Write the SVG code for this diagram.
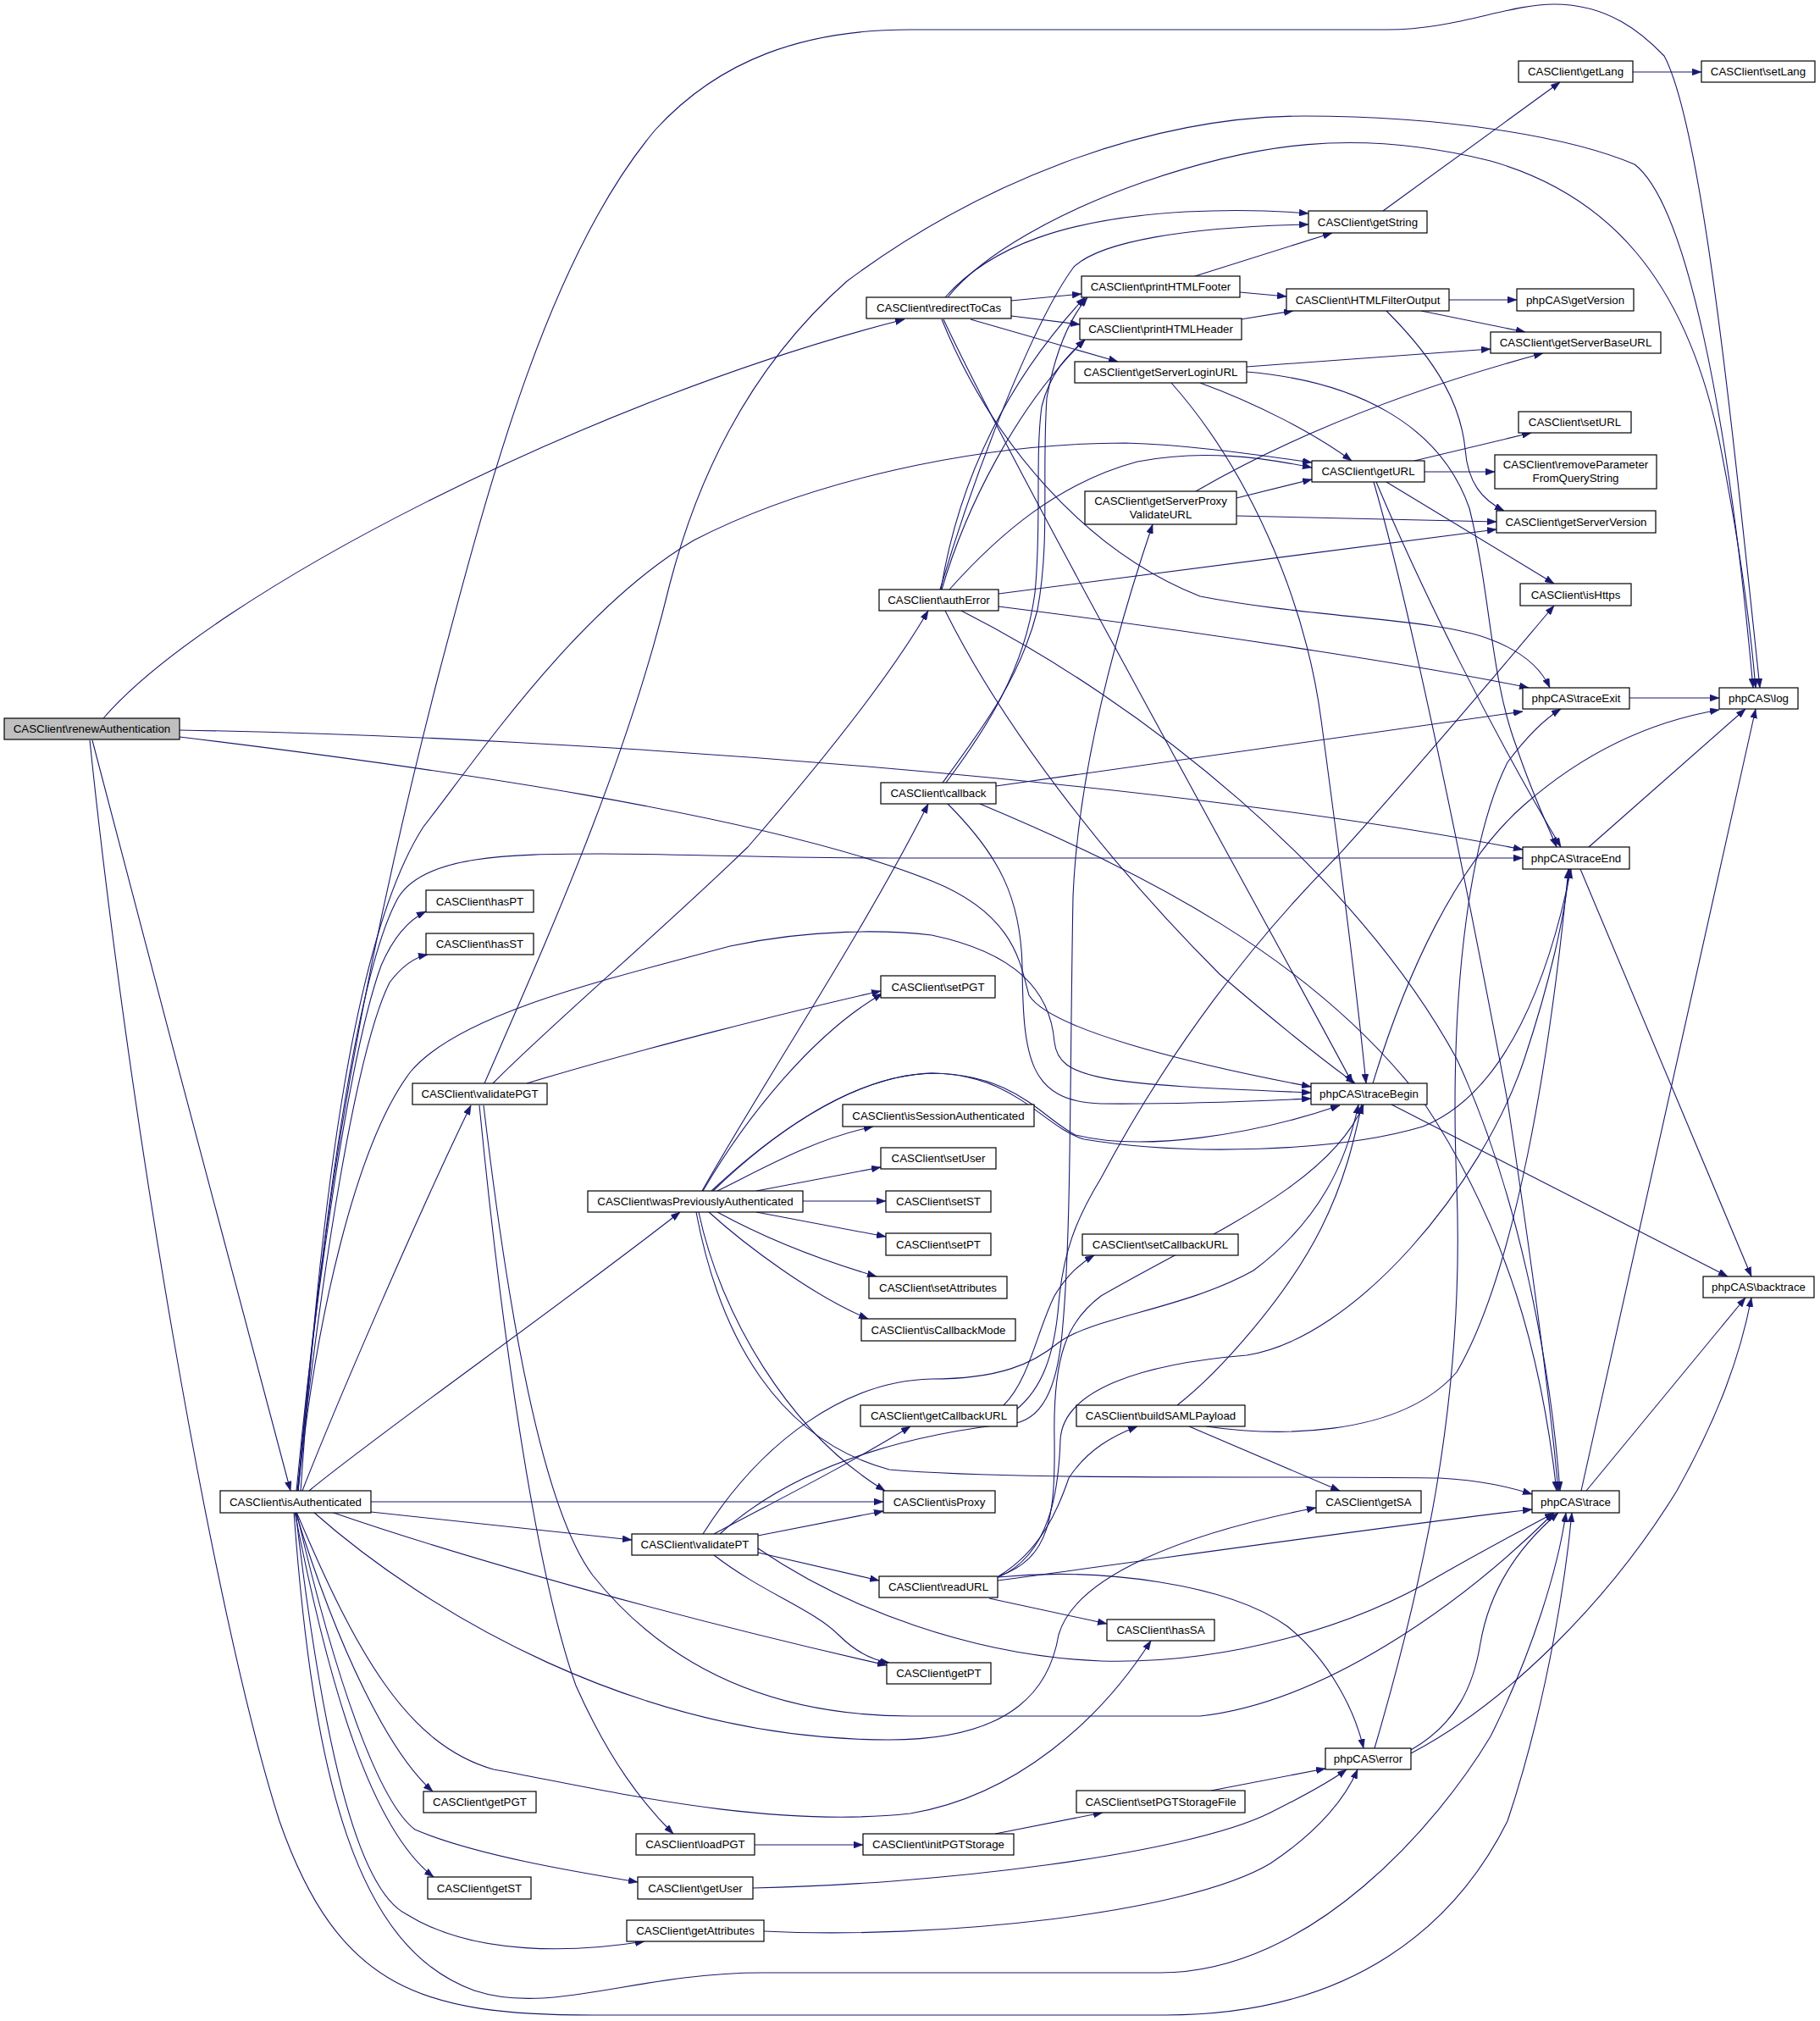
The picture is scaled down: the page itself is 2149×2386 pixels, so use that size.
<svg xmlns="http://www.w3.org/2000/svg" width="2149" height="2386" viewBox="0 0 2149 2386">
<style>
.n rect{fill:#ffffff;stroke:#000000;stroke-width:1.2}
.n text{font-family:"Liberation Sans",Arial,Helvetica,sans-serif;font-size:13.3px;fill:#000000;text-anchor:middle}
.root rect{fill:#bfbfbf}
#edges path{fill:none;stroke:#191970;stroke-width:1.1;marker-end:url(#ah)}
</style>
<defs>
<marker id="ah" viewBox="0 0 11 8" refX="11" refY="4" markerWidth="11" markerHeight="8" markerUnits="userSpaceOnUse" orient="auto">
<path d="M0,0 L11,4 L0,8 z" fill="#191970" stroke="#191970" stroke-width="0.5"/>
</marker>
</defs>
<rect x="0" y="0" width="2149" height="2386" fill="#ffffff"/>
<g id="edges">
<path d="M122,848 C 250,700 700,470 1068,377"/>
<path d="M109,874 C 180,1150 280,1520 343,1760"/>
<path d="M212,862 C 700,870 1400,925 1798,1003"/>
<path d="M212,870 C 500,905 900,960 1100,1040 C 1200,1080 1205,1140 1215,1175 C 1240,1215 1400,1255 1548,1283"/>
<path d="M106,874 C 150,1300 250,1900 330,2150 C 400,2350 500,2379 700,2379 L 1376,2379 C 1600,2379 1720,2270 1780,2150 C 1830,2000 1850,1850 1856,1786"/>
<path d="M352,1760 C 380,1400 440,1100 517,800 C 580,560 650,300 774,153 C 850,70 950,35 1074,35 L 1637,35 C 1720,35 1780,5 1835,5 C 1900,5 1940,40 1965,66 C 2010,150 2045,500 2078,812"/>
<path d="M355,1760 C 380,1400 420,1100 500,976 C 560,900 680,720 819,638 C 950,570 1150,523 1329,523 C 1400,525 1470,535 1549,546"/>
<path d="M352,1760 C 380,1450 420,1150 470,1060 C 500,1010 600,1008 709,1008 C 800,1008 900,1013 1050,1013 L 1798,1013"/>
<path d="M350,1760 C 370,1550 410,1250 450,1140 C 465,1105 485,1085 503,1076"/>
<path d="M351,1760 C 380,1500 420,1240 460,1160 C 475,1140 490,1130 505,1127"/>
<path d="M357,1760 C 400,1650 500,1420 556,1305"/>
<path d="M365,1760 C 450,1690 650,1550 803,1431"/>
<path d="M352,1760 C 372,1561 420,1350 485,1265 C 540,1200 689,1163 862,1117 C 960,1096 1050,1098 1100,1104 C 1200,1125 1240,1170 1245,1230 C 1250,1275 1300,1280 1548,1290"/>
<path d="M438,1773 L 1043,1773"/>
<path d="M438,1785 L 746,1818"/>
<path d="M391,1785 C 550,1840 800,1910 1047,1966"/>
<path d="M370,1785 C 500,1900 750,2054 1050,2054 C 1200,2054 1240,1990 1250,1930 C 1270,1860 1400,1810 1554,1780"/>
<path d="M350,1785 C 420,1950 480,2060 583,2089 C 700,2110 900,2160 1075,2141 C 1200,2120 1300,2030 1359,1937"/>
<path d="M349,1785 C 400,1950 460,2070 511,2115"/>
<path d="M348,1785 C 390,2000 440,2160 512,2216"/>
<path d="M350,1785 C 400,2000 450,2130 490,2160 C 560,2190 680,2210 753,2222"/>
<path d="M349,1785 C 380,2050 420,2230 480,2260 C 560,2310 680,2305 761,2292"/>
<path d="M347,1785 C 370,2100 420,2300 560,2350 C 650,2380 750,2329 900,2329 L 1370,2329 C 1550,2329 1700,2150 1760,2050 C 1810,1950 1840,1850 1849,1786"/>
<path d="M1116,351 C 1170,290 1260,258 1400,250 C 1460,247 1510,249 1545,252"/>
<path d="M1119,351 C 1160,300 1250,250 1350,215 C 1480,170 1600,150 1760,190 C 1900,230 1990,330 2030,520 C 2050,620 2065,720 2073,812"/>
<path d="M1194,355 L 1277,347"/>
<path d="M1194,373 L 1275,383"/>
<path d="M1146,377 L 1320,427"/>
<path d="M1114,377 C 1200,560 1480,1060 1597,1279"/>
<path d="M1112,377 C 1170,520 1280,650 1417,704 C 1550,730 1700,730 1760,755 C 1800,770 1820,790 1830,812"/>
<path d="M572,1279 C 650,1100 740,900 791,689 C 830,540 900,420 1000,332 C 1150,220 1350,137 1540,137 C 1700,137 1850,160 1930,194 C 1990,240 2040,480 2070,812"/>
<path d="M1411,326 L 1573,275"/>
<path d="M1464,345 L 1519,350"/>
<path d="M1465,377 L 1527,367"/>
<path d="M1633,249 L 1842,97"/>
<path d="M1928,85 L 2009,85"/>
<path d="M1711,354 L 1791,354"/>
<path d="M1678,367 L 1801,392"/>
<path d="M1637,367 C 1700,430 1725,480 1730,530 C 1733,570 1750,590 1776,603"/>
<path d="M1472,433 L 1760,412"/>
<path d="M1417,452 C 1480,475 1550,510 1596,544"/>
<path d="M1383,452 C 1470,550 1540,700 1560,850 C 1580,1000 1600,1150 1613,1279"/>
<path d="M1472,439 C 1600,450 1700,500 1735,600 C 1760,700 1760,800 1790,880 C 1810,940 1830,980 1838,1000"/>
<path d="M1670,544 L 1808,511"/>
<path d="M1682,557 L 1765,557"/>
<path d="M1637,569 L 1835,689"/>
<path d="M1622,569 C 1660,700 1720,980 1780,1300 C 1810,1500 1830,1650 1840,1760"/>
<path d="M1625,569 C 1680,700 1760,860 1843,1000"/>
<path d="M1412,580 C 1550,500 1700,450 1822,417"/>
<path d="M1460,588 L 1549,566"/>
<path d="M1460,609 L 1767,616"/>
<path d="M1110,696 C 1150,560 1220,380 1268,315 C 1300,285 1400,268 1545,265"/>
<path d="M1111,696 C 1130,580 1180,460 1281,351"/>
<path d="M1112,696 C 1140,600 1200,480 1281,401"/>
<path d="M1121,696 C 1180,630 1250,570 1343,545 C 1420,530 1490,540 1549,552"/>
<path d="M1179,701 L 1767,625"/>
<path d="M1179,716 C 1450,750 1700,790 1805,812"/>
<path d="M1116,721 C 1180,850 1300,1010 1440,1150 C 1510,1210 1560,1250 1600,1279"/>
<path d="M1135,721 C 1350,830 1600,1030 1720,1250 C 1790,1400 1830,1600 1842,1760"/>
<path d="M1176,928 L 1798,840"/>
<path d="M1113,924 C 1160,860 1205,800 1225,720 C 1240,640 1230,560 1236,470 C 1245,420 1260,380 1284,351"/>
<path d="M1117,924 C 1165,860 1210,790 1222,700 C 1230,620 1222,540 1230,480 C 1240,440 1260,420 1281,401"/>
<path d="M1119,949 C 1180,1010 1205,1060 1207,1140 C 1208,1250 1215,1300 1300,1303 C 1400,1304 1480,1300 1548,1297"/>
<path d="M1157,949 C 1350,1030 1550,1130 1680,1300 C 1780,1450 1820,1600 1838,1760"/>
<path d="M829,1406 C 900,1280 1020,1100 1096,949"/>
<path d="M830,1406 C 880,1320 960,1220 1042,1173"/>
<path d="M847,1406 C 900,1380 960,1345 1031,1330"/>
<path d="M893,1406 L 1040,1378"/>
<path d="M948,1418 L 1046,1418"/>
<path d="M893,1431 L 1046,1460"/>
<path d="M847,1431 C 900,1460 960,1485 1035,1507"/>
<path d="M837,1431 C 880,1470 960,1530 1025,1557"/>
<path d="M825,1431 C 850,1550 930,1690 1045,1760"/>
<path d="M822,1431 C 850,1580 920,1700 1050,1735 C 1200,1748 1500,1742 1700,1745 C 1750,1748 1780,1755 1809,1764"/>
<path d="M842,1406 C 900,1350 1000,1270 1100,1267 C 1200,1268 1230,1320 1270,1340 C 1350,1360 1480,1340 1582,1305"/>
<path d="M840,1406 C 900,1350 1000,1270 1100,1267 C 1200,1268 1230,1330 1280,1345 C 1400,1365 1580,1360 1680,1330 C 1780,1290 1830,1150 1855,1026"/>
<path d="M582,1279 C 650,1210 780,1100 883,1000 C 970,900 1050,800 1096,721"/>
<path d="M622,1279 C 750,1240 950,1190 1040,1170"/>
<path d="M566,1305 C 590,1550 630,1850 680,1990 C 720,2080 760,2130 795,2165"/>
<path d="M571,1305 C 600,1550 640,1780 700,1860 C 780,1960 900,2026 1075,2026 L 1417,2026 C 1560,2010 1720,1900 1835,1786"/>
<path d="M895,1813 L 1043,1784"/>
<path d="M843,1811 C 920,1770 1000,1730 1075,1684"/>
<path d="M895,1833 L 1038,1866"/>
<path d="M843,1836 C 900,1880 960,1900 990,1930 C 1010,1950 1030,1960 1050,1963"/>
<path d="M830,1811 C 900,1700 1000,1630 1100,1628 C 1180,1628 1220,1610 1250,1585 C 1290,1555 1400,1545 1480,1500 C 1560,1440 1590,1370 1604,1304"/>
<path d="M850,1811 C 950,1720 1100,1690 1200,1680 C 1235,1672 1250,1630 1255,1564 C 1265,1450 1263,1280 1267,1058 C 1272,940 1300,800 1361,619"/>
<path d="M895,1828 C 1000,1900 1150,1955 1300,1961 C 1450,1965 1600,1920 1700,1860 C 1770,1820 1810,1800 1835,1786"/>
<path d="M1179,1861 C 1230,1830 1250,1780 1262,1745 C 1285,1710 1315,1695 1343,1684"/>
<path d="M1168,1887 L 1307,1917"/>
<path d="M1178,1866 C 1400,1836 1650,1800 1809,1782"/>
<path d="M1178,1862 C 1300,1850 1450,1870 1520,1920 C 1570,1960 1600,2020 1610,2064"/>
<path d="M1179,1861 C 1240,1840 1246,1790 1245,1700 C 1243,1600 1260,1560 1300,1530 C 1420,1460 1570,1400 1610,1304"/>
<path d="M1179,1862 C 1240,1835 1250,1760 1252,1700 C 1255,1640 1350,1610 1472,1600 C 1600,1580 1750,1400 1800,1250 C 1830,1160 1848,1080 1853,1026"/>
<path d="M1185,1659 C 1215,1630 1225,1570 1245,1530 C 1260,1505 1275,1492 1292,1482"/>
<path d="M1200,1664 C 1230,1640 1245,1600 1250,1540 C 1255,1480 1270,1440 1300,1391 C 1380,1240 1480,1110 1580,1010 C 1680,900 1780,780 1835,715"/>
<path d="M1404,1684 L 1582,1760"/>
<path d="M1390,1659 C 1440,1620 1520,1530 1560,1450 C 1590,1390 1600,1340 1608,1304"/>
<path d="M1424,1684 C 1500,1695 1650,1700 1720,1620 C 1790,1500 1830,1250 1852,1026"/>
<path d="M1623,2064 C 1680,1870 1730,1650 1720,1400 C 1710,1150 1740,980 1780,900 C 1810,860 1830,845 1843,837"/>
<path d="M1666,2066 C 1720,2035 1740,1990 1748,1940 C 1760,1870 1800,1820 1840,1786"/>
<path d="M1666,2070 C 1780,2010 1900,1890 1980,1760 C 2030,1670 2055,1600 2068,1532"/>
<path d="M1867,1760 L 2073,837"/>
<path d="M1873,1760 L 2061,1532"/>
<path d="M1621,1279 C 1660,1150 1720,1020 1800,950 C 1880,880 1960,850 2030,838"/>
<path d="M1643,1304 L 2040,1507"/>
<path d="M1876,1000 L 2061,837"/>
<path d="M1866,1026 L 2068,1507"/>
<path d="M1924,824 L 2030,824"/>
<path d="M889,2229 C 1100,2225 1400,2190 1500,2140 C 1550,2115 1575,2100 1590,2089"/>
<path d="M902,2280 C 1100,2290 1400,2260 1500,2200 C 1560,2160 1590,2120 1603,2089"/>
<path d="M1430,2114 L 1565,2088"/>
<path d="M1175,2165 L 1302,2140"/>
<path d="M891,2178 L 1019,2178"/>
</g>
<g id="n_renewAuthentication" class="n root"><rect x="5" y="848" width="207" height="25"/><text x="108.5" y="865">CASClient\renewAuthentication</text></g>
<g id="n_redirectToCas" class="n"><rect x="1023" y="351" width="171" height="25"/><text x="1108.5" y="368">CASClient\redirectToCas</text></g>
<g id="n_getString" class="n"><rect x="1545" y="249" width="140" height="26"/><text x="1615" y="267">CASClient\getString</text></g>
<g id="n_getLang" class="n"><rect x="1793" y="72" width="135" height="25"/><text x="1860.5" y="89">CASClient\getLang</text></g>
<g id="n_setLang" class="n"><rect x="2009" y="72" width="134" height="25"/><text x="2076" y="89">CASClient\setLang</text></g>
<g id="n_printHTMLFooter" class="n"><rect x="1277" y="326" width="187" height="25"/><text x="1370.5" y="343">CASClient\printHTMLFooter</text></g>
<g id="n_HTMLFilterOutput" class="n"><rect x="1519" y="341" width="192" height="26"/><text x="1615" y="359">CASClient\HTMLFilterOutput</text></g>
<g id="n_getVersion" class="n"><rect x="1791" y="341" width="138" height="26"/><text x="1860" y="359">phpCAS\getVersion</text></g>
<g id="n_printHTMLHeader" class="n"><rect x="1275" y="376" width="191" height="25"/><text x="1370.5" y="393">CASClient\printHTMLHeader</text></g>
<g id="n_getServerBaseURL" class="n"><rect x="1760" y="392" width="201" height="25"/><text x="1860.5" y="409">CASClient\getServerBaseURL</text></g>
<g id="n_getServerLoginURL" class="n"><rect x="1269" y="427" width="203" height="25"/><text x="1370.5" y="444">CASClient\getServerLoginURL</text></g>
<g id="n_setURL" class="n"><rect x="1793" y="486" width="133" height="25"/><text x="1859.5" y="503">CASClient\setURL</text></g>
<g id="n_getURL" class="n"><rect x="1549" y="544" width="133" height="25"/><text x="1615.5" y="561">CASClient\getURL</text></g>
<g id="n_removeParameterFromQueryString" class="n"><rect x="1765" y="537" width="191" height="40"/><text x="1860.5" y="553">CASClient\removeParameter</text><text x="1860.5" y="569">FromQueryString</text></g>
<g id="n_getServerProxyValidateURL" class="n"><rect x="1281" y="580" width="179" height="39"/><text x="1370.5" y="596">CASClient\getServerProxy</text><text x="1370.5" y="612">ValidateURL</text></g>
<g id="n_getServerVersion" class="n"><rect x="1767" y="603" width="188" height="26"/><text x="1861" y="621">CASClient\getServerVersion</text></g>
<g id="n_authError" class="n"><rect x="1038" y="696" width="141" height="25"/><text x="1108.5" y="713">CASClient\authError</text></g>
<g id="n_isHttps" class="n"><rect x="1795" y="689" width="131" height="26"/><text x="1860.5" y="707">CASClient\isHttps</text></g>
<g id="n_traceExit" class="n"><rect x="1798" y="812" width="126" height="25"/><text x="1861" y="829">phpCAS\traceExit</text></g>
<g id="n_log" class="n"><rect x="2030" y="812" width="93" height="25"/><text x="2076.5" y="829">phpCAS\log</text></g>
<g id="n_callback" class="n"><rect x="1040" y="924" width="136" height="25"/><text x="1108" y="941">CASClient\callback</text></g>
<g id="n_traceEnd" class="n"><rect x="1798" y="1000" width="126" height="26"/><text x="1861" y="1018">phpCAS\traceEnd</text></g>
<g id="n_hasPT" class="n"><rect x="503" y="1051" width="127" height="26"/><text x="566.5" y="1069">CASClient\hasPT</text></g>
<g id="n_hasST" class="n"><rect x="503" y="1102" width="127" height="25"/><text x="566.5" y="1119">CASClient\hasST</text></g>
<g id="n_setPGT" class="n"><rect x="1040" y="1152" width="135" height="26"/><text x="1107.5" y="1170">CASClient\setPGT</text></g>
<g id="n_validatePGT" class="n"><rect x="487" y="1279" width="159" height="25"/><text x="566.5" y="1296">CASClient\validatePGT</text></g>
<g id="n_traceBegin" class="n"><rect x="1548" y="1279" width="137" height="25"/><text x="1616.5" y="1296">phpCAS\traceBegin</text></g>
<g id="n_isSessionAuthenticated" class="n"><rect x="995" y="1304" width="226" height="26"/><text x="1108" y="1322">CASClient\isSessionAuthenticated</text></g>
<g id="n_setUser" class="n"><rect x="1040" y="1355" width="136" height="25"/><text x="1108" y="1372">CASClient\setUser</text></g>
<g id="n_wasPreviouslyAuthenticated" class="n"><rect x="694" y="1406" width="254" height="25"/><text x="821" y="1423">CASClient\wasPreviouslyAuthenticated</text></g>
<g id="n_setST" class="n"><rect x="1046" y="1406" width="124" height="25"/><text x="1108" y="1423">CASClient\setST</text></g>
<g id="n_setPT" class="n"><rect x="1046" y="1456" width="124" height="26"/><text x="1108" y="1474">CASClient\setPT</text></g>
<g id="n_setCallbackURL" class="n"><rect x="1278" y="1457" width="184" height="25"/><text x="1370" y="1474">CASClient\setCallbackURL</text></g>
<g id="n_setAttributes" class="n"><rect x="1026" y="1507" width="163" height="26"/><text x="1107.5" y="1525">CASClient\setAttributes</text></g>
<g id="n_backtrace" class="n"><rect x="2011" y="1507" width="131" height="25"/><text x="2076.5" y="1524">phpCAS\backtrace</text></g>
<g id="n_isCallbackMode" class="n"><rect x="1017" y="1557" width="182" height="26"/><text x="1108" y="1575">CASClient\isCallbackMode</text></g>
<g id="n_getCallbackURL" class="n"><rect x="1016" y="1659" width="185" height="25"/><text x="1108.5" y="1676">CASClient\getCallbackURL</text></g>
<g id="n_buildSAMLPayload" class="n"><rect x="1271" y="1659" width="199" height="25"/><text x="1370.5" y="1676">CASClient\buildSAMLPayload</text></g>
<g id="n_isAuthenticated" class="n"><rect x="260" y="1760" width="178" height="26"/><text x="349" y="1778">CASClient\isAuthenticated</text></g>
<g id="n_isProxy" class="n"><rect x="1043" y="1760" width="132" height="26"/><text x="1109" y="1778">CASClient\isProxy</text></g>
<g id="n_getSA" class="n"><rect x="1554" y="1760" width="124" height="26"/><text x="1616" y="1778">CASClient\getSA</text></g>
<g id="n_trace" class="n"><rect x="1809" y="1760" width="103" height="26"/><text x="1860.5" y="1778">phpCAS\trace</text></g>
<g id="n_validatePT" class="n"><rect x="746" y="1811" width="149" height="25"/><text x="820.5" y="1828">CASClient\validatePT</text></g>
<g id="n_readURL" class="n"><rect x="1038" y="1861" width="140" height="25"/><text x="1108" y="1878">CASClient\readURL</text></g>
<g id="n_hasSA" class="n"><rect x="1307" y="1912" width="127" height="25"/><text x="1370.5" y="1929">CASClient\hasSA</text></g>
<g id="n_getPT" class="n"><rect x="1047" y="1963" width="123" height="25"/><text x="1108.5" y="1980">CASClient\getPT</text></g>
<g id="n_error" class="n"><rect x="1565" y="2064" width="101" height="25"/><text x="1615.5" y="2081">phpCAS\error</text></g>
<g id="n_getPGT" class="n"><rect x="500" y="2115" width="133" height="25"/><text x="566.5" y="2132">CASClient\getPGT</text></g>
<g id="n_setPGTStorageFile" class="n"><rect x="1271" y="2114" width="199" height="26"/><text x="1370.5" y="2132">CASClient\setPGTStorageFile</text></g>
<g id="n_loadPGT" class="n"><rect x="751" y="2165" width="140" height="25"/><text x="821" y="2182">CASClient\loadPGT</text></g>
<g id="n_initPGTStorage" class="n"><rect x="1019" y="2165" width="178" height="25"/><text x="1108" y="2182">CASClient\initPGTStorage</text></g>
<g id="n_getST" class="n"><rect x="505" y="2216" width="122" height="26"/><text x="566" y="2234">CASClient\getST</text></g>
<g id="n_getUser" class="n"><rect x="753" y="2216" width="136" height="26"/><text x="821" y="2234">CASClient\getUser</text></g>
<g id="n_getAttributes" class="n"><rect x="740" y="2267" width="162" height="25"/><text x="821" y="2284">CASClient\getAttributes</text></g>
</svg>
